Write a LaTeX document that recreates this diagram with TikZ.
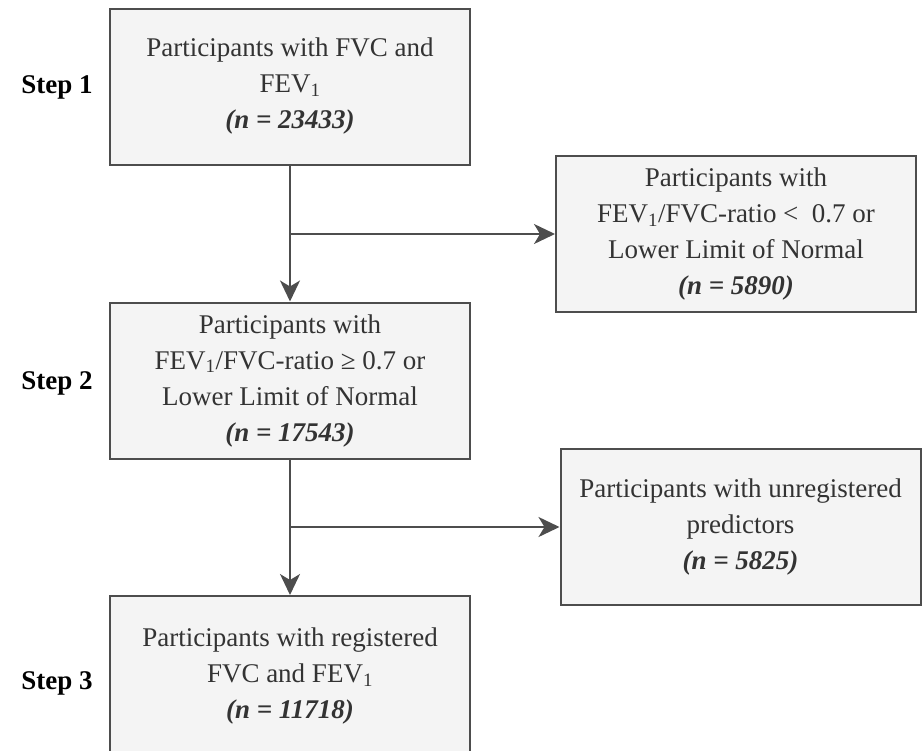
\documentclass[tikz,border=0pt]{standalone}
\usepackage{fontspec}
\setmainfont{Liberation Serif}
\usetikzlibrary{arrows.meta}
\definecolor{linegray}{HTML}{4D4D4D}
\definecolor{boxgray}{HTML}{F4F4F4}
\newcommand{\boxwidth}{360pt}
\newcommand{\boxheight}{156pt}
\newcommand{\linethick}{2pt}
\newcommand{\sub}[1]{\textsubscript{#1}}

\tikzset{
  box/.style={draw=linegray, fill=boxgray, line width=\linethick,
    minimum width=\boxwidth, minimum height=\boxheight, inner sep=0pt,
    align=center, text=black!80, font=\fontsize{27}{36}\selectfont},
  flow/.style={draw=linegray, line width=\linethick,
    -{Stealth[length=21pt,width=20pt,inset=6pt]}},
  steplabel/.style={font=\fontsize{27}{33}\selectfont\bfseries},
}

\begin{document}
\begin{tikzpicture}[x=1pt,y=-1pt]
\clip (0,0) rectangle (923,750);
%main column
\node[box] (b1) at (290, 86.5) {Participants with FVC and\\FEV\sub{1}\\\textbf{\textit{(n = 23433)}}};
\node[box] (b2) at (290, 380.5) {Participants with\\FEV\sub{1}/FVC-ratio ≥ 0.7 or\\Lower Limit of Normal\\\textbf{\textit{(n = 17543)}}};
\node[box] (b3) at (290, 676) [minimum height=160pt] {Participants with registered\\FVC and FEV\sub{1}\\\textbf{\textit{(n = 11718)}}};
%excluded
\node[box] (ex1) at (736, 234) {Participants with\\FEV\sub{1}/FVC-ratio <\ \ 0.7 or\\Lower Limit of Normal\\\textbf{\textit{(n = 5890)}}};
\node[box] (ex2) at (740.5, 527) {Participants with unregistered\\predictors\\\textbf{\textit{(n = 5825)}}};
%steps
\node[steplabel] (s1) at (57, 87) {Step 1};
\node[steplabel] (s2) at (57, 383) {Step 2};
\node[steplabel] (s3) at (57, 683) {Step 3};
%arrows
\draw[flow] (b1) -- (b2);
\draw[flow] (b1.south |- ex1.west) -- (ex1.west);
\draw[flow] (b2) -- (b3);
\draw[flow] (b2.south |- ex2.west) -- (ex2.west);
\end{tikzpicture}
\end{document}
